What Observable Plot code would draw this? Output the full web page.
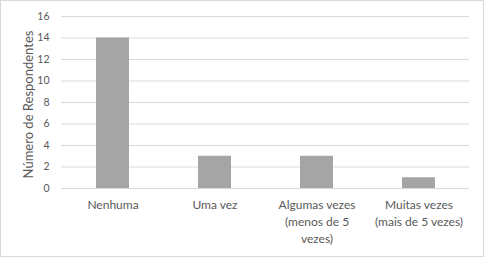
<!DOCTYPE html>
<html><head><meta charset="utf-8">
<script src="https://cdn.jsdelivr.net/npm/d3@7"></script>
<script src="https://cdn.jsdelivr.net/npm/@observablehq/plot@0.6"></script>
<style>
body{margin:0;background:#fff;}
#chart svg{display:block;outline:1px solid #d9d9d9;outline-offset:-1px;}
</style></head><body><div id="chart"></div>
<script>
const categories = ["Nenhuma", "Uma vez", "Algumas vezes (menos de 5 vezes)", "Muitas vezes (mais de 5 vezes)"];
const tickLabels = ["Nenhuma", "Uma vez", "Algumas vezes\n(menos de 5\nvezes)", "Muitas vezes\n(mais de 5 vezes)"];
const values = [14, 3, 3, 1];
const yTicks = [0, 2, 4, 6, 8, 10, 12, 14, 16];
const yTitle = "Número de Respondentes";

const data = categories.map((c, i) => ({cat: c, v: values[i]}));
const labelMap = new Map(categories.map((c, i) => [c, tickLabels[i]]));

const chart = Plot.plot({
  width: 484, height: 257,
  marginTop: 16, marginBottom: 69, marginLeft: 61, marginRight: 15,
  style: {fontFamily: "Lato, 'Open Sans', sans-serif", fontSize: "11px", color: "#595959", background: "#fff"},
  x: {domain: categories, paddingInner: 0.68, paddingOuter: 0.34},
  y: {domain: [0, 16]},
  marks: [
    Plot.gridY(yTicks, {stroke: "#d9d9d9", strokeOpacity: 1}),
    Plot.barY(data, {x: "cat", y: "v", fill: "#a5a5a5"}),
    Plot.axisY({ticks: yTicks, tickSize: 0, tickPadding: 12, label: null, fill: "#595959", fontSize: 10.5}),
    Plot.text([yTitle], {text: d => d, frameAnchor: "left", dx: -33, dy: 2, rotate: -90, textAnchor: "middle", fontSize: 13, fill: "#595959"}),
    Plot.axisX({tickSize: 0, tickPadding: 9, tickFormat: d => labelMap.get(d), lineHeight: 1.4, fontSize: 12, label: null, fill: "#595959"})
  ]
});
document.getElementById("chart").appendChild(chart);
</script></body></html>
